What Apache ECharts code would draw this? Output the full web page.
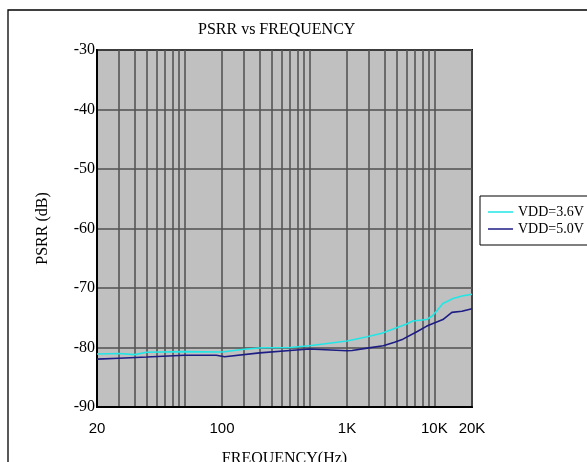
<!DOCTYPE html>
<html>
<head>
<meta charset="utf-8">
<script src="https://cdn.jsdelivr.net/npm/echarts@6/dist/echarts.min.js"></script>
<style>
html,body{margin:0;padding:0;background:#fff;}
#chart{width:587px;height:462px;}
</style>
</head>
<body>
<div id="chart"></div>
<script>
// ---- data ----
const freq36 = [20, 30, 40, 50, 100, 200, 300, 420, 700, 1000, 2000, 2900, 3800, 4800, 6000, 6700, 8700, 9600, 10500, 11700, 14100, 16600, 20000];
const psrr36 = [-81.1, -81.0, -81.2, -80.8, -80.7, -80.75, -80.3, -80.05, -80.0, -79.7, -78.9, -78.2, -77.6, -76.8, -76.05, -75.55, -75.3, -74.7, -73.8, -72.6, -71.75, -71.35, -71.05];

const freq50 = [20, 30, 50, 100, 180, 210, 400, 700, 1000, 2000, 2200, 2900, 3900, 4800, 5600, 7300, 8700, 9750, 11700, 13800, 16600, 20000];
const psrr50 = [-81.95, -81.8, -81.6, -81.3, -81.3, -81.55, -80.9, -80.5, -80.25, -80.55, -80.5, -80.1, -79.7, -79.1, -78.6, -77.3, -76.4, -75.95, -75.3, -74.1, -73.9, -73.5];

const seriesNames = ['VDD=3.6V', 'VDD=5.0V'];
const gridFreqs = [20, 30, 40, 50, 60, 70, 80, 90, 100, 200, 300, 400, 500, 600, 700, 800, 900, 1000,
                   2000, 3000, 4000, 5000, 6000, 7000, 8000, 9000, 10000, 20000];
const xLabelValues = [20, 200, 2000, 10000, 20000];
const xLabelTexts = ['20', '100', '1K', '10K', '20K'];
const yMin = -90, yMax = -30, yStep = 10;

function pairs(xs, ys) { return xs.map((x, i) => [x, ys[i]]); }

const chart = echarts.init(document.getElementById('chart'), null, {renderer: 'canvas'});
chart.setOption({
  animation: false,
  backgroundColor: '#ffffff',
  title: {
    text: 'PSRR vs FREQUENCY',
    left: 198, top: 22, padding: 0,
    textStyle: {fontFamily: 'Liberation Serif', fontSize: 16, fontWeight: 'normal', color: '#000'}
  },
  graphic: [{
    type: 'rect', z: -10, silent: true,
    shape: {x: 8, y: 10, width: 700, height: 700},
    style: {fill: null, stroke: '#000', lineWidth: 1.3}
  }],
  legend: {
    orient: 'vertical', left: 480, top: 196,
    padding: [9, 22, 9, 8], itemGap: 3, itemWidth: 25, itemHeight: 1.5,
    icon: 'rect',
    backgroundColor: '#fff', borderColor: '#000', borderWidth: 1, borderRadius: 0,
    textStyle: {fontFamily: 'Liberation Serif', fontSize: 14, color: '#000', lineHeight: 14},
    data: seriesNames
  },
  grid: {
    left: 97, right: 115, top: 50, bottom: 55,
    containLabel: false, outerBoundsMode: 'none',
    show: true, backgroundColor: '#c0c0c0', borderColor: '#000', borderWidth: 2
  },
  xAxis: {
    type: 'log', logBase: 10, min: 20, max: 20000,
    name: 'FREQUENCY(Hz)', nameLocation: 'middle', nameGap: 44,
    nameTextStyle: {fontFamily: 'Liberation Serif', fontSize: 16, color: '#000'},
    axisLine: {show: true, lineStyle: {color: '#000', width: 2}},
    axisTick: {show: false, customValues: gridFreqs},
    splitLine: {show: true, lineStyle: {color: '#555', width: 1.6}},
    minorSplitLine: {show: false},
    axisLabel: {
      customValues: xLabelValues,
      margin: 14,
      fontFamily: 'Liberation Sans', fontSize: 15, color: '#000',
      formatter: function (v) {
        const i = xLabelValues.findIndex(t => Math.abs(t - v) / t < 1e-6);
        return i >= 0 ? xLabelTexts[i] : '';
      }
    }
  },
  yAxis: {
    type: 'value', min: yMin, max: yMax, interval: yStep,
    name: 'PSRR (dB)', nameLocation: 'middle', nameGap: 46, nameRotate: 90,
    nameTextStyle: {fontFamily: 'Liberation Serif', fontSize: 16, color: '#000'},
    axisLine: {show: true, lineStyle: {color: '#000', width: 2}},
    axisTick: {show: false},
    splitLine: {show: true, lineStyle: {color: '#505050', width: 1.6}},
    axisLabel: {margin: 2, fontFamily: 'Liberation Serif', fontSize: 16, color: '#000'}
  },
  series: [
    {
      name: seriesNames[0], type: 'line', symbol: 'none', smooth: false,
      lineStyle: {color: '#22e6e6', width: 1.6}, itemStyle: {color: '#22e6e6'},
      data: pairs(freq36, psrr36), z: 3
    },
    {
      name: seriesNames[1], type: 'line', symbol: 'none', smooth: false,
      lineStyle: {color: '#1c1c84', width: 1.6}, itemStyle: {color: '#1c1c84'},
      data: pairs(freq50, psrr50), z: 2
    }
  ]
});
</script>
</body>
</html>
